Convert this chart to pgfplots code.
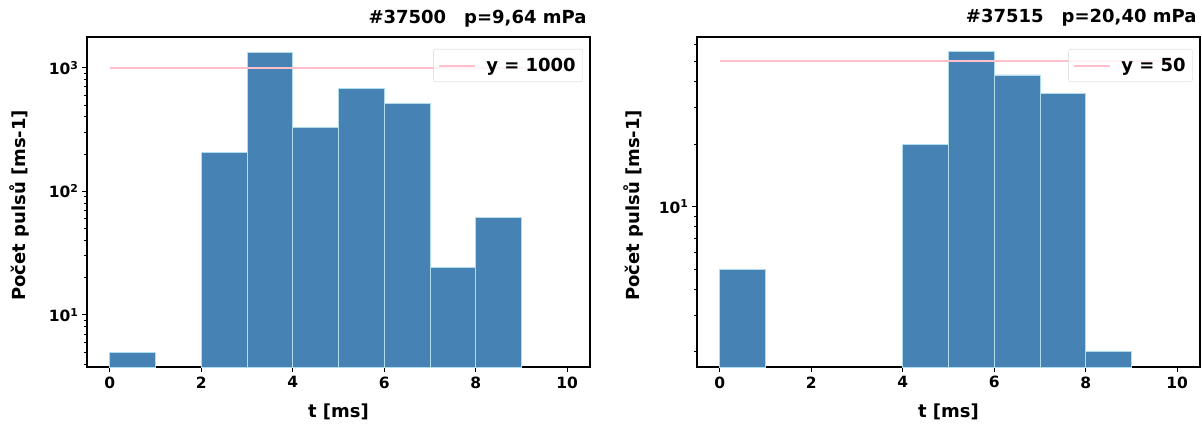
\documentclass[border=0pt]{standalone}
\usepackage{fontspec}
\setmainfont{DejaVu Sans}
\usepackage{pgfplots}
\pgfplotsset{compat=1.18}

\definecolor{barblue}{HTML}{4682B4}
\definecolor{baredge}{HTML}{B0DDEB}
\definecolor{hpink}{HTML}{FFC0CB}
\definecolor{legframe}{HTML}{D5D5D5}

\newcommand{\bigf}{\bfseries\fontsize{18}{21}\selectfont}
\newcommand{\tickf}{\bfseries\fontsize{15.5}{18}\selectfont}

\pgfplotsset{
  myhist/.style={
    scale only axis,
    width=503pt, height=330pt,
    xmin=-0.5, xmax=10.5,
    xtick={0,2,4,6,8,10},
    tick align=outside, tick pos=left,
    major tick length=5pt, minor tick length=3pt,
    every tick/.style={black, line width=0.9pt},
    axis line style={line width=2.2pt},
    /pgf/number format/assume math mode=true,
    ticklabel style={font=\tickf},
    xticklabel style={yshift=-1pt},
    label style={font=\bigf},
    xlabel={t [ms]},
    ylabel={Počet pulsů [ms-1]},
    xlabel style={at={(axis description cs:0.5,-0.136)}, anchor=center},
    title style={font=\bigf, anchor=base east, at={(axis description cs:1,1)}, yshift=8pt},
    legend style={at={(axis description cs:0.986,0.964)}, anchor=north east, draw=legframe, rounded corners=3pt,
      fill=white, fill opacity=0.8, text opacity=1, font=\bigf,
      inner xsep=5pt, inner ysep=7pt,
      /tikz/every odd column/.append style={column sep=8pt}},
    legend image code/.code={\draw[line width=2pt, hpink] (0pt,0pt) -- (36pt,0pt);},
    legend cell align=left,
  },
  mybars/.style={ybar interval, fill=barblue, draw=baredge, line width=0.9pt, forget plot},
}

\begin{document}
\begin{tikzpicture}[x=1pt,y=1pt]
\useasboundingbox (0,0) rectangle (1202,424);

\begin{axis}[myhist, ymode=log, log origin=infty,
  at={(87pt,57pt)}, anchor=south west,
  ymin=3.78, ymax=1775,
  ytick={10,100,1000},
  yticklabels={10\textsuperscript{1},10\textsuperscript{2},10\textsuperscript{3}},
  minor ytick={4,5,6,7,8,9,20,30,40,50,60,70,80,90,200,300,400,500,600,700,800,900},
  ylabel style={at={(axis description cs:-0.135,0.49)}, anchor=center},
  title={\#37500\hspace{18pt}p=9,64 mPa},
]
\addplot[mybars] coordinates {(0,5) (1,5)};
\addplot[mybars] coordinates {(2,208) (3,1342) (4,328) (5,680) (6,515) (7,24) (8,61) (9,61)};
\addplot[hpink, line width=2pt] coordinates {(0,1000) (10,1000)};
\addlegendentry{y = 1000}
\end{axis}

\begin{axis}[myhist, ymode=log, log origin=infty,
  at={(697pt,57pt)}, anchor=south west,
  ymin=1.69, ymax=65.5,
  ytick={10},
  yticklabels={10\textsuperscript{1}},
  minor ytick={2,3,4,5,6,7,8,9,20,30,40,50,60},
  ylabel style={at={(axis description cs:-0.127,0.49)}, anchor=center},
  title={\#37515\hspace{18pt}p=20,40 mPa},
]
\addplot[mybars] coordinates {(0,5) (1,5)};
\addplot[mybars] coordinates {(4,20) (5,56) (6,43) (7,35) (8,2) (9,2)};
\addplot[hpink, line width=2pt] coordinates {(0,50) (10,50)};
\addlegendentry{y = 50}
\end{axis}
\end{tikzpicture}
\end{document}
